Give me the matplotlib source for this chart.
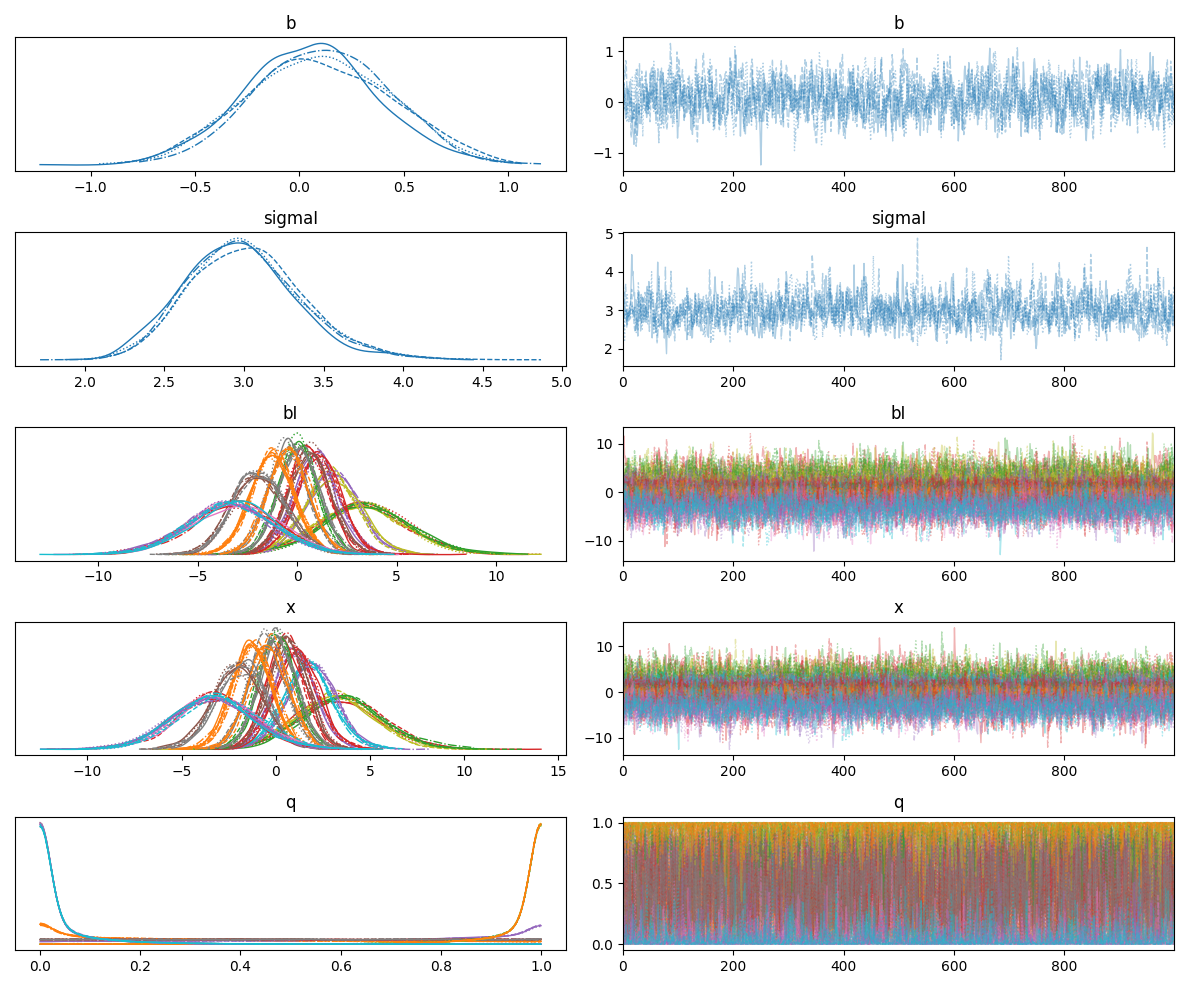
import numpy as np
import matplotlib.pyplot as plt

# Reference is an ArviZ-style trace plot. Posterior draws can't be read point by
# point, so the lists below hold the summary (centre, spread,
# colour of each component) and a seeded AR(1) sampler makes 1000 draws per chain.
n_draws = 1000
n_chains = 4
chain_styles = ['-', '--', ':', '-.']

b_mean, b_sd = [0.1], [0.33]
sigma_mean, sigma_sd = [3.0], [0.36]
bI_means = [3.3, 3.2, 3.4, 1.8, 1.7, 1.0, 1.1, 0.5, 0.6, 0.0, 0.1, -0.5, -0.4,
            -1.3, -1.2, -2.0, -1.9, -3.3, -3.2, -3.4, -3.3]
bI_sds = [2.2, 2.2, 2.2, 1.35, 1.35, 1.15, 1.15, 1.05, 1.05, 1.0, 1.0, 1.05, 1.05,
          1.1, 1.1, 1.35, 1.35, 2.2, 2.2, 2.2, 2.2]
bI_colors = ['C3', 'C8', 'C2', 'C4', 'C8', 'C4', 'C3', 'C3', 'C5', 'C2', 'C7', 'C7', 'C1',
             'C1', 'C1', 'C5', 'C7', 'C3', 'C6', 'C4', 'C9']
x_means = bI_means
x_sds = bI_sds
x_colors = ['C3', 'C8', 'C2', 'C4', 'C9', 'C4', 'C3', 'C3', 'C5', 'C2', 'C7', 'C7', 'C1',
            'C1', 'C1', 'C5', 'C7', 'C3', 'C6', 'C4', 'C9']
q_a = [0.6, 0.6, 1.0, 1.0, 1.0, 1.0, 6.0, 6.0, 6.0, 0.25, 0.25, 0.25, 0.25]
q_b = [1.0, 1.0, 0.6, 1.0, 1.0, 1.0, 0.25, 0.25, 0.25, 6.0, 6.0, 6.0, 6.0]
q_colors = ['C1', 'C1', 'C4', 'C3', 'C5', 'C7', 'C2', 'C8', 'C1', 'C7', 'C6', 'C4', 'C9']

rng = np.random.default_rng(7)


def ar_noise(n, rho=0.6, df=None):
    if df:
        e = rng.standard_t(df, n) / np.sqrt(df / (df - 2))
    else:
        e = rng.standard_normal(n)
    out = np.empty(n)
    out[0] = e[0]
    for i in range(1, n):
        out[i] = rho * out[i - 1] + np.sqrt(1 - rho ** 2) * e[i]
    return out


def kde(s, grid, bw=None):
    if bw is None:
        bw = 1.06 * s.std() * len(s) ** -0.2
    z = (grid[:, None] - s[None, :]) / bw
    return np.exp(-0.5 * z ** 2).sum(1) / (len(s) * bw * np.sqrt(2 * np.pi))


def normal_draws(means, sds, df=None):
    return [[m + s * ar_noise(n_draws, df=df) for _ in range(n_chains)] for m, s in zip(means, sds)]


def lognormal_draws(means, sds):
    out = []
    for m, s in zip(means, sds):
        sig = s / m
        out.append([m * np.exp(sig * ar_noise(n_draws, df=12) - sig ** 2 / 2) for _ in range(n_chains)])
    return out


def beta_draws(a_list, b_list):
    out = []
    for a, b in zip(a_list, b_list):
        ch = []
        for _ in range(n_chains):
            ref = np.sort(rng.beta(a, b, 5000))
            u = np.argsort(np.argsort(ar_noise(n_draws, 0.5))) / (n_draws - 1)
            ch.append(ref[np.clip((u * 4999).astype(int), 0, 4999)])
        out.append(ch)
    return out


variables = [
    ('b', normal_draws(b_mean, b_sd), ['C0']),
    ('sigmaI', lognormal_draws(sigma_mean, sigma_sd), ['C0']),
    ('bI', normal_draws(bI_means, bI_sds, df=12), bI_colors),
    ('x', normal_draws(x_means, x_sds, df=12), x_colors),
    ('q', beta_draws(q_a, q_b), q_colors),
]

fig, axes = plt.subplots(5, 2, figsize=(11.89, 9.89), dpi=100)
for row, (name, draws, colors) in enumerate(variables):
    axl, axr = axes[row]
    for comp, col in zip(draws, colors):
        for ci, s in enumerate(comp):
            if name == 'q':
                grid = np.linspace(0, 1, 300)
                s2 = np.concatenate([s, -s, 2 - s])
                dens = kde(s2, grid, bw=0.02) * 3
            else:
                grid = np.linspace(s.min(), s.max(), 200)
                dens = kde(s, grid)
            axl.plot(grid, dens, color=col, ls=chain_styles[ci], lw=1)
            axr.plot(np.arange(n_draws), s, color=col, ls=chain_styles[ci], lw=1, alpha=0.35)
    axl.set_title(name)
    axr.set_title(name)
    axl.set_yticks([])
    axr.set_xlim(0, n_draws - 1)

fig.tight_layout()
fig.savefig('out.png')
